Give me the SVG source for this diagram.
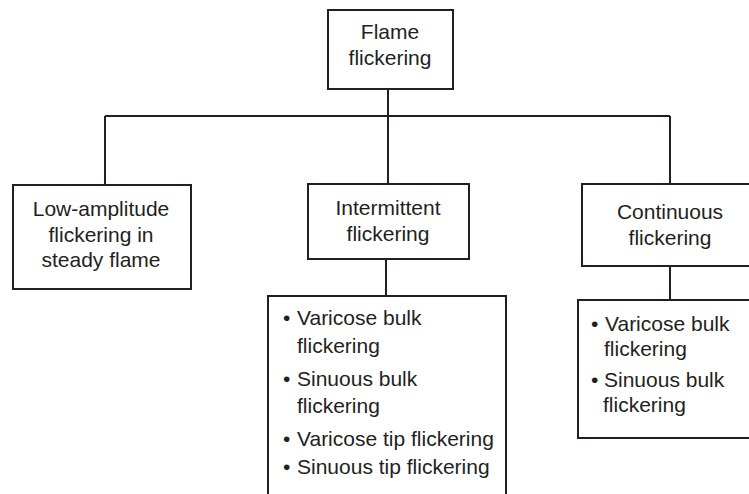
<svg xmlns="http://www.w3.org/2000/svg" width="749" height="494" viewBox="0 0 749 494">
<style>
.box{fill:#fff;stroke:#231f20;stroke-width:2}
.ln{fill:none;stroke:#231f20;stroke-width:2}
text{font-family:"Liberation Sans",Arial,sans-serif;font-size:21px;fill:#231f20}
.c{text-anchor:middle}
</style>
<rect width="749" height="494" fill="#fff"/>
<g id="connectors">
<path class="ln" d="M388,89 V116 M105,116 H670 M105,116 V185 M388,116 V184 M670,116 V184 M386,259 V296 M670,266 V300"/>
</g>
<g id="root">
<rect class="box" x="328" y="10" width="125" height="79"/>
<text class="c" x="390" y="39">Flame</text>
<text class="c" x="390" y="65">flickering</text>
</g>
<g id="low">
<rect class="box" x="13" y="185" width="178" height="104"/>
<text class="c" x="101" y="216">Low-amplitude</text>
<text class="c" x="101" y="242">flickering in</text>
<text class="c" x="101" y="267">steady flame</text>
</g>
<g id="intermittent">
<rect class="box" x="308" y="184" width="161" height="75"/>
<text class="c" x="388" y="215">Intermittent</text>
<text class="c" x="388" y="241">flickering</text>
</g>
<g id="continuous">
<rect class="box" x="582" y="184" width="180" height="82"/>
<text class="c" x="670" y="219">Continuous</text>
<text class="c" x="670" y="245">flickering</text>
</g>
<g id="intermittent-list">
<rect class="box" x="268" y="296" width="238" height="210"/>
<text x="283" y="325">•<tspan x="297">Varicose bulk</tspan></text>
<text x="297" y="353">flickering</text>
<text x="283" y="386">•<tspan x="297">Sinuous bulk</tspan></text>
<text x="297" y="413">flickering</text>
<text x="283" y="446">•<tspan x="297">Varicose tip flickering</tspan></text>
<text x="283" y="474">•<tspan x="297">Sinuous tip flickering</tspan></text>
</g>
<g id="continuous-list">
<rect class="box" x="578" y="300" width="190" height="138"/>
<text x="591" y="331">•<tspan x="605">Varicose bulk</tspan></text>
<text x="604" y="356">flickering</text>
<text x="591" y="387">•<tspan x="604">Sinuous bulk</tspan></text>
<text x="603" y="412">flickering</text>
</g>
</svg>
